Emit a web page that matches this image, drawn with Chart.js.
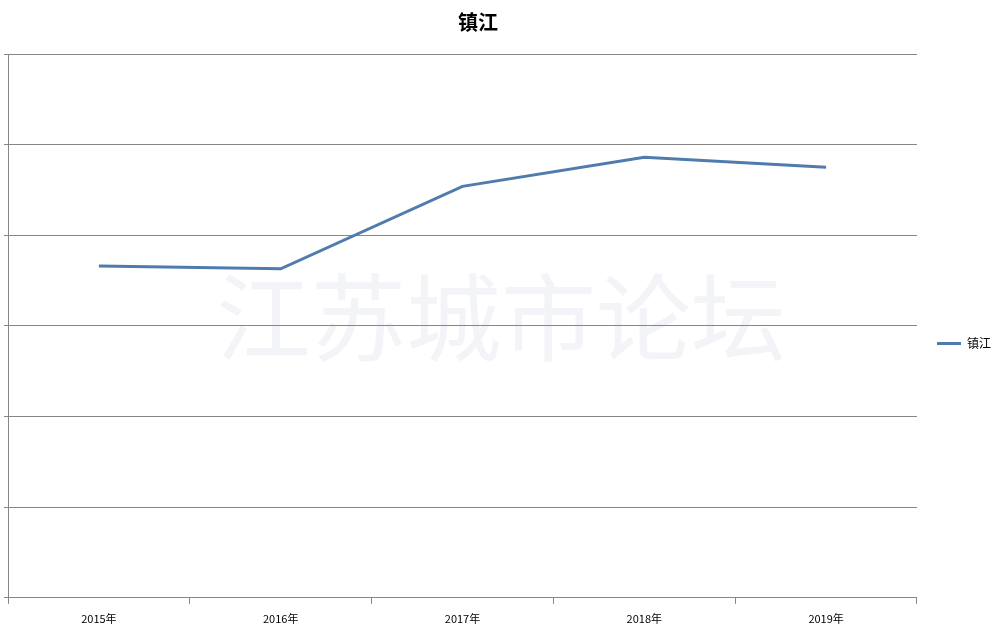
<!DOCTYPE html>
<html>
<head>
<meta charset="utf-8">
<script src="https://cdn.jsdelivr.net/npm/chart.js@4"></script>
<style>
  html, body { margin: 0; padding: 0; background: #fff; }
  #wrap { width: 1002px; height: 637px; }
</style>
</head>
<body>
<div id="wrap"><canvas id="chart"></canvas></div>
<script>
const years = ['2015年', '2016年', '2017年', '2018年', '2019年'];
const zhenjiang = [3.66, 3.63, 4.54, 4.86, 4.75];
const yTicks = [0, 1, 2, 3, 4, 5, 6];
const chartTitle = '镇江';

const axisGray = '#868686';
const cjk = "'Noto Sans CJK SC', 'Noto Sans', sans-serif";

// white background + faint site watermark behind the plot
const watermark = {
  id: 'watermark',
  beforeDraw(chart) {
    const ctx = chart.ctx;
    ctx.save();
    ctx.fillStyle = '#fff';
    ctx.fillRect(0, 0, chart.width, chart.height);
    ctx.font = '95px ' + cjk;
    ctx.fillStyle = '#f3f4f7';
    ctx.textAlign = 'center';
    ctx.textBaseline = 'middle';
    ctx.fillText('江苏城市论坛', 501, 318);
    ctx.restore();
  }
};

// title sits a bit left of page centre in the original
const offsetTitle = {
  id: 'offsetTitle',
  afterDraw(chart) {
    const ctx = chart.ctx;
    ctx.save();
    ctx.font = 'bold 20px ' + cjk;
    ctx.fillStyle = '#000';
    ctx.textAlign = 'center';
    ctx.textBaseline = 'middle';
    ctx.fillText(chartTitle, 478, 22);
    ctx.restore();
  }
};

new Chart(document.getElementById('chart'), {
  type: 'line',
  data: {
    labels: years,
    datasets: [{
      label: '镇江',
      data: zhenjiang,
      borderColor: '#4f7cac',
      backgroundColor: '#4f7cac',
      borderWidth: 3,
      pointRadius: 0,
      tension: 0
    }]
  },
  options: {
    responsive: true,
    maintainAspectRatio: false,
    animation: false,
    layout: { padding: { left: 4, right: 1, top: 54, bottom: 4 } },
    plugins: {
      title: { display: false },
      legend: {
        position: 'right',
        labels: {
          usePointStyle: true,
          pointStyle: 'line',
          pointStyleWidth: 24,
          boxHeight: 12,
          color: '#000',
          font: { family: cjk, size: 12 },
          padding: 20
        }
      },
      tooltip: { enabled: false }
    },
    scales: {
      x: {
        offset: true,
        grid: {
          offset: true,
          drawOnChartArea: false,
          drawTicks: true,
          tickLength: 6,
          color: axisGray
        },
        border: { color: axisGray },
        ticks: {
          color: '#000',
          font: { family: cjk, size: 11 },
          padding: 8,
          maxRotation: 0
        }
      },
      y: {
        min: yTicks[0],
        max: yTicks[yTicks.length - 1],
        afterBuildTicks(scale) {
          scale.ticks = yTicks.map(v => ({ value: v }));
        },
        grid: { color: axisGray, tickLength: 4, drawTicks: true },
        border: { color: axisGray },
        ticks: { display: false }
      }
    }
  },
  plugins: [watermark, offsetTitle]
});
</script>
</body>
</html>
